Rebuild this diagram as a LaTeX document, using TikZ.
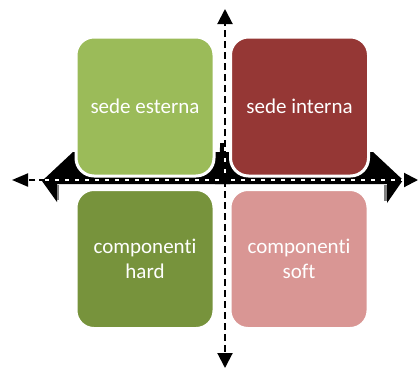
\documentclass[tikz,border=0pt]{standalone}
\usepackage{fontspec}
\setmainfont[Ligatures=NoCommon]{Carlito}
\usetikzlibrary{arrows.meta}
\definecolor{cTL}{HTML}{9BBB59}
\definecolor{cTR}{HTML}{953735}
\definecolor{cBL}{HTML}{77933C}
\definecolor{cBR}{HTML}{D99694}
\tikzset{
  quad/.style={draw=white, line width=3pt, rounded corners=18pt, minimum width=138pt, minimum height=139pt,
    inner sep=0pt, text=white, align=center, font=\fontsize{21}{25}\selectfont},
  axisline/.style={line width=2pt, black, dash pattern=on 7pt off 4pt, -{Triangle[length=15pt,width=15pt]}},
}
\begin{document}
\begin{tikzpicture}[x=1pt,y=-1pt]
\useasboundingbox (0,0) rectangle (419,370);
% black flared arrow background
\fill[black] (42,181) -- (73,152) -- (373,152) -- (403,180) -- (387,203) -- (387,184)
  -- (57,184) -- (57,202) -- cycle;
\fill[black] (215,184) .. controls (220,172) and (220,160) .. (220,143) -- (225,143)
  .. controls (225,160) and (225,172) .. (230,184) -- cycle;
\fill[gray] (57,185) rectangle (59,200);
\fill[gray] (384,185) rectangle (387,201);
% quadrants
\node[quad, fill=cTL] (tl) at (145,106.5) {sede esterna};
\node[quad, fill=cTR] (tr) at (299.5,106.5) {sede interna};
\node[quad, fill=cBL] (bl) at (145,259) {componenti\\hard};
\node[quad, fill=cBR] (br) at (299,259) {componenti\\soft};
% axes
\coordinate (hl) at (12,180);
\coordinate (hr) at (418,180);
\coordinate (vt) at (225,9);
\coordinate (vb) at (225,368);
\coordinate (c) at (225,180);
\draw[white, line width=1.6pt] (hl) -- (hr);
\draw[white, line width=2.6pt] (vt) -- (vb);
\draw[axisline, dash pattern=on 6pt off 4pt, -{Triangle[length=16pt,width=13pt]}] (c) -- (hl);
\draw[axisline, dash pattern=on 6pt off 4pt, -{Triangle[length=14pt,width=14pt]}] (c) -- (hr);
\draw[axisline] (c) -- (vt);
\draw[axisline] (c) -- (vb);
\end{tikzpicture}
\end{document}
